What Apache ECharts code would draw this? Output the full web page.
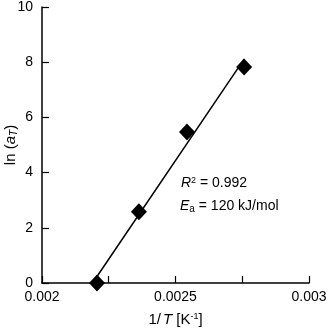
<!DOCTYPE html>
<html lang="en">
<head>
  <meta charset="UTF-8">
  <title>ln(aT) vs 1/T</title>
  <script src="https://cdn.jsdelivr.net/npm/echarts@6/dist/echarts.min.js"></script>
  <style>
    html, body { margin: 0; padding: 0; background: #fff; }
    #main { width: 332px; height: 328px; }
  </style>
</head>
<body>
  <div id="main"></div>
  <script type="text/javascript">
    // values
    var invT = [0.002206, 0.002363, 0.002543, 0.002757];
    var lnAT = [0.0, 2.58, 5.47, 7.83];
    var xLabels = ['0.002', '0.0025', '0.003'];
    var yLabels = ['0', '2', '4', '6', '8', '10'];
    var r2Text = '0.992';
    var eaText = '120 kJ/mol';

    var points = invT.map(function (x, i) { return [x, lnAT[i]]; });

    // least squares line through the points
    var n = invT.length, sx = 0, sy = 0, sxx = 0, sxy = 0;
    for (var i = 0; i < n; i++) {
      sx += invT[i]; sy += lnAT[i];
      sxx += invT[i] * invT[i]; sxy += invT[i] * lnAT[i];
    }
    var slope = (n * sxy - sx * sy) / (n * sxx - sx * sx);
    var icpt = (sy - slope * sx) / n;
    var x0 = invT[0], x1 = invT[n - 1];
    var fitLine = [[x0, icpt + slope * x0], [x1, icpt + slope * x1]];

    var font = 'Liberation Sans, Arial, Helvetica, sans-serif';
    var fs = 14;
    var nfs = 15;
    var chart = echarts.init(document.getElementById('main'));

    var option = {
      animation: false,
      backgroundColor: '#fff',
      textStyle: { fontFamily: font, color: '#000' },
      grid: { left: 42, right: 23, top: 7, bottom: 45, containLabel: false, outerBoundsMode: 'none' },
      xAxis: {
        type: 'value',
        min: 0.002, max: 0.003, interval: 0.00025,
        splitLine: { show: false },
        axisLine: { lineStyle: { color: '#000', width: 1.5 } },
        axisTick: { inside: true, length: 7, lineStyle: { color: '#000', width: 1.2 } },
        axisLabel: {
          color: '#000', fontSize: fs, fontFamily: font, margin: 7,
          formatter: function (v) {
            var k = Math.round(v * 1e5);
            if (k % 50 !== 0) return '';
            return xLabels[(k - 200) / 50];
          }
        },
        name: '{n|1/}{i|T}{n| [K}{sup|-1}{n|]}',
        nameLocation: 'middle',
        nameGap: 29,
        nameMoveOverlap: false,
        nameTextStyle: {
          rich: {
            n: { fontSize: nfs, fontFamily: font, color: '#000' },
            i: { fontSize: nfs, fontFamily: font, fontStyle: 'italic', color: '#000', padding: [0, 0, 0, 2] },
            sup: { fontSize: 9, fontFamily: font, color: '#000', padding: [0, 0, 6, 0] }
          }
        }
      },
      yAxis: {
        type: 'value',
        min: 0, max: 10, interval: 2,
        splitLine: { show: false },
        axisLine: { show: true, lineStyle: { color: '#000', width: 1.5 } },
        axisTick: { show: true, inside: true, length: 7, lineStyle: { color: '#000', width: 1.2 } },
        axisLabel: {
          color: '#000', fontSize: fs, fontFamily: font, margin: 9,
          formatter: function (v) { return yLabels[Math.round(v / 2)]; }
        },
        name: '{n|ln (}{i|a}{sub|T}{n|)}',
        nameLocation: 'middle',
        nameGap: 23,
        nameMoveOverlap: false,
        nameTextStyle: {
          rich: {
            n: { fontSize: nfs, fontFamily: font, color: '#000' },
            i: { fontSize: nfs, fontFamily: font, fontStyle: 'italic', color: '#000' },
            sub: { fontSize: 10, fontFamily: font, fontStyle: 'italic', color: '#000', padding: [6, 0, 0, 0] }
          }
        }
      },
      graphic: [
        {
          type: 'text', left: 181, top: 176,
          style: {
            text: '{i|R}{sup|2}{n| = ' + r2Text + '}',
            rich: {
              n: { fontSize: fs, fontFamily: font, fill: '#000' },
              i: { fontSize: fs, fontFamily: font, fontStyle: 'italic', fill: '#000' },
              sup: { fontSize: 9, fontFamily: font, fill: '#000', padding: [0, 0, 6, 0] }
            }
          }
        },
        {
          type: 'text', left: 180, top: 199,
          style: {
            text: '{i|E}{sub|a}{n| = ' + eaText + '}',
            rich: {
              n: { fontSize: fs, fontFamily: font, fill: '#000' },
              i: { fontSize: fs, fontFamily: font, fontStyle: 'italic', fill: '#000' },
              sub: { fontSize: 10, fontFamily: font, fill: '#000', padding: [6, 0, 0, 0] }
            }
          }
        }
      ],
      series: [
        {
          type: 'line',
          data: fitLine,
          showSymbol: false,
          symbol: 'none',
          lineStyle: { color: '#000', width: 1.5 },
          z: 2
        },
        {
          type: 'scatter',
          data: points,
          symbol: 'diamond',
          symbolSize: [16, 17],
          itemStyle: { color: '#000', opacity: 1 },
          z: 3
        }
      ]
    };

    chart.setOption(option);
  </script>
</body>
</html>
